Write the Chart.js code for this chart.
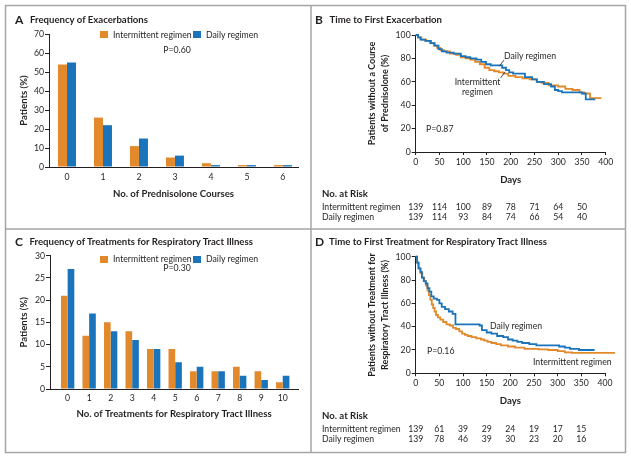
<!DOCTYPE html>
<html>
<head>
<meta charset="utf-8">
<title>Intermittent vs daily regimen</title>
<script src="https://cdn.jsdelivr.net/npm/chart.js@4.4.1/dist/chart.umd.min.js"></script>
<style>
  body { margin: 0; background: #fff; }
  #fig { position: relative; width: 631px; height: 460px; font-family: Lato, sans-serif; color: #231f20; overflow: hidden; }
  #fig canvas { position: absolute; }
  #fig svg { position: absolute; left: 0; top: 0; }
  .t { position: absolute; white-space: nowrap; font-size: 8.7px; line-height: 12px; transform: translateY(-50%); }
  .b { font-weight: bold; font-size: 9.6px; }
  .L { font-weight: bold; font-size: 12px; }
  .c { text-align: center; transform: translate(-50%, -50%); }
  .sq { position: absolute; width: 8px; height: 7px; }
</style>
</head>
<body>
<div id="fig">
  <canvas id="chartA" width="311" height="229" style="left:0;top:0;"></canvas>
  <canvas id="chartB" width="320" height="229" style="left:311px;top:0;"></canvas>
  <canvas id="chartC" width="311" height="229" style="left:0;top:229px;"></canvas>
  <canvas id="chartD" width="320" height="229" style="left:311px;top:229px;"></canvas>

  <svg width="631" height="460">
    <rect x="5.5" y="5.5" width="620" height="447" fill="none" stroke="#a5a5a5" stroke-width="1.5"/>
    <line x1="311" y1="5.5" x2="311" y2="452.5" stroke="#a5a5a5" stroke-width="1.5"/>
    <line x1="5.5" y1="229" x2="625.5" y2="229" stroke="#a5a5a5" stroke-width="1.5"/>
    <line x1="504" y1="60" x2="499.5" y2="66" stroke="#231f20" stroke-width="0.8"/>
    <line x1="500.5" y1="78" x2="505" y2="72" stroke="#231f20" stroke-width="0.8"/>
  </svg>

  <!-- panel A -->
  <div class="t L" style="left:15px;top:20px;">A</div>
  <div class="t b" style="left:30px;top:20px;">Frequency of Exacerbations</div>
  <div class="sq" style="left:100px;top:31px;background:#e2892b;"></div>
  <div class="t" style="left:113px;top:34.5px;">Intermittent regimen</div>
  <div class="sq" style="left:193px;top:31px;background:#1a74bb;"></div>
  <div class="t" style="left:206px;top:34.5px;">Daily regimen</div>
  <div class="t c" style="left:177px;top:50px;">P=0.60</div>

  <!-- panel B -->
  <div class="t L" style="left:315px;top:20px;">B</div>
  <div class="t b" style="left:329.5px;top:20px;">Time to First Exacerbation</div>
  <div class="t" style="left:504px;top:56px;">Daily regimen</div>
  <div class="t c" style="left:477.5px;top:81.7px;">Intermittent</div>
  <div class="t c" style="left:477.5px;top:91.7px;">regimen</div>
  <div class="t" style="left:426px;top:129px;">P=0.87</div>
  <div class="t b" style="left:322px;top:194.3px;">No. at Risk</div>
  <div class="t" style="left:322px;top:206.7px;">Intermittent regimen</div>
  <div class="t" style="left:322px;top:217.3px;">Daily regimen</div>

  <!-- panel C -->
  <div class="t L" style="left:15px;top:241.7px;">C</div>
  <div class="t b" style="left:29.5px;top:241.7px;">Frequency of Treatments for Respiratory Tract Illness</div>
  <div class="sq" style="left:100px;top:255.5px;background:#e2892b;"></div>
  <div class="t" style="left:113px;top:258.7px;">Intermittent regimen</div>
  <div class="sq" style="left:193px;top:255.5px;background:#1a74bb;"></div>
  <div class="t" style="left:206px;top:258.7px;">Daily regimen</div>
  <div class="t c" style="left:177px;top:268.3px;">P=0.30</div>

  <!-- panel D -->
  <div class="t L" style="left:315px;top:241.7px;">D</div>
  <div class="t b" style="left:329px;top:241.7px;">Time to First Treatment for Respiratory Tract Illness</div>
  <div class="t" style="left:490px;top:325.7px;">Daily regimen</div>
  <div class="t" style="left:427px;top:351px;">P=0.16</div>
  <div class="t" style="left:533px;top:361.7px;">Intermittent regimen</div>
  <div class="t b" style="left:322px;top:416px;">No. at Risk</div>
  <div class="t" style="left:322px;top:429px;">Intermittent regimen</div>
  <div class="t" style="left:322px;top:439.3px;">Daily regimen</div>
</div>

<script>
// ---- data ----
var courses = [0, 1, 2, 3, 4, 5, 6];
var coursesIntermittent = [54, 26, 11, 5, 2, 1, 1];
var coursesDaily = [55, 22, 15, 6, 1, 1, 1];

var treatments = [0, 1, 2, 3, 4, 5, 6, 7, 8, 9, 10];
var treatIntermittent = [21, 12, 15, 13, 9, 9, 4, 4, 5, 4, 1.5];
var treatDaily = [27, 17, 13, 11, 9, 6, 5, 4, 3, 2, 3];

// time to first exacerbation (days, % without prednisolone)
var exacDaysIntermittent = [0, 5, 12, 22, 30, 38, 45, 52, 60, 72, 85, 95, 105, 115, 125, 135, 145, 155, 165, 175, 185, 195, 210, 225, 240, 255, 265, 280, 300, 315, 330, 345, 355, 367, 391];
var exacSurvIntermittent = [100, 98, 96, 95, 93, 91, 89, 87, 86, 84, 83, 81, 80, 79, 77, 75, 72, 70, 69, 68, 67, 65, 64, 63, 62, 60, 59, 57, 56, 54, 53, 51, 50, 46, 46];
var exacDaysDaily = [0, 5, 10, 20, 32, 40, 48, 55, 65, 80, 95, 105, 115, 128, 138, 148, 158, 182, 190, 197, 205, 230, 245, 255, 270, 285, 293, 300, 308, 350, 358, 378];
var exacSurvDaily = [100, 98, 96, 95, 93, 91, 88, 86, 85, 84, 82, 81, 80, 79, 77, 75, 74, 72, 70, 68, 67, 64, 62, 60, 58, 56, 53, 52, 51, 50, 45, 45];

// time to first treatment for respiratory tract illness
var rtiDaysIntermittent = [0, 3, 6, 10, 14, 18, 22, 25, 28, 31, 34, 37, 40, 43, 47, 52, 58, 65, 72, 79, 85, 92, 98, 104, 110, 118, 128, 138, 145, 152, 160, 170, 180, 195, 210, 230, 260, 280, 300, 315, 330, 421];
var rtiSurvIntermittent = [100, 95, 90, 86, 82, 79, 75, 71, 67, 63, 59, 56, 53, 50, 48, 46, 44, 42, 41, 39, 38, 36, 34, 33, 32, 31, 30, 29, 28, 27, 26, 25, 24, 23, 22, 21, 20.5, 20, 19, 18, 17.5, 17.5];
var rtiDaysDaily = [0, 3, 6, 10, 13, 17, 21, 25, 29, 33, 38, 45, 50, 55, 62, 70, 78, 84, 135, 140, 150, 160, 172, 185, 195, 205, 215, 225, 240, 255, 303, 315, 326, 345, 378];
var rtiSurvDaily = [100, 95, 90, 87, 82, 79, 77, 73, 70, 66, 64, 63, 60, 57, 55, 53, 51, 42, 41, 37, 35, 34, 32, 31, 29, 28, 27, 26, 25, 24, 23, 22, 21, 20, 20];

// numbers at risk
var riskDays = [0, 50, 100, 150, 200, 250, 300, 350];
var riskExacIntermittent = [139, 114, 100, 89, 78, 71, 64, 50];
var riskExacDaily = [139, 114, 93, 84, 74, 66, 54, 40];
var riskRtiIntermittent = [139, 61, 39, 29, 24, 19, 17, 15];
var riskRtiDaily = [139, 78, 46, 39, 30, 23, 20, 16];

var ORANGE = '#e2892b', BLUE = '#1a74bb', INK = '#231f20';
var TICK = 8.7, TITLE = 9.6;

Chart.defaults.font.family = 'Lato';
Chart.defaults.color = INK;

function pts(xs, ys) {
  return xs.map(function (x, i) { return { x: x, y: ys[i] }; });
}

function drawBars(id, cats, inter, daily, o) {
  new Chart(document.getElementById(id), {
    type: 'bar',
    data: {
      datasets: [
        { label: 'Intermittent regimen', data: pts(cats, inter), backgroundColor: ORANGE },
        { label: 'Daily regimen', data: pts(cats, daily), backgroundColor: BLUE }
      ]
    },
    options: {
      responsive: false,
      animation: false,
      layout: { padding: o.pad },
      datasets: { bar: { barPercentage: 1, categoryPercentage: o.catPct } },
      plugins: { legend: { display: false }, tooltip: { enabled: false } },
      scales: {
        x: {
          type: 'linear', min: o.xMin, max: o.xMax, offset: false,
          grid: { offset: false, drawOnChartArea: false, drawTicks: false },
          border: { color: INK, width: 1 },
          ticks: { stepSize: 1, includeBounds: false, padding: o.xTickPad, font: { size: TICK }, color: INK },
          title: { display: true, text: o.xTitle, color: INK, font: { size: TITLE, weight: 'bold' }, padding: { top: 0, bottom: 0.5 } },
          afterFit: function (s) { s.height = o.xH; }
        },
        y: {
          min: 0, max: o.yMax,
          grid: { drawOnChartArea: false, tickLength: 4, color: INK },
          border: { color: INK, width: 1 },
          ticks: { stepSize: o.yStep, padding: 1, font: { size: TICK }, color: INK },
          title: { display: true, text: 'Patients (%)', color: INK, font: { size: TITLE, weight: 'bold' }, padding: { top: 4.5, bottom: 0 } },
          afterFit: function (s) { s.width = o.yW; }
        }
      }
    }
  });
}

function riskRows(rows, ys) {
  return {
    id: 'riskRows',
    afterDraw: function (chart) {
      var ctx = chart.ctx, xs = chart.scales.x;
      ctx.save();
      ctx.font = TICK + 'px Lato';
      ctx.fillStyle = INK;
      ctx.textAlign = 'center';
      ctx.textBaseline = 'middle';
      rows.forEach(function (row, r) {
        row.forEach(function (n, i) {
          ctx.fillText(String(n), xs.getPixelForValue(riskDays[i]), ys[r]);
        });
      });
      ctx.restore();
    }
  };
}

function drawKM(id, series, yTitle, o, risk) {
  new Chart(document.getElementById(id), {
    type: 'line',
    data: {
      datasets: series.map(function (s) {
        return {
          label: s.label, data: pts(s.days, s.surv),
          borderColor: s.color, borderWidth: 1.8, pointRadius: 0,
          stepped: true, fill: false, clip: false
        };
      })
    },
    options: {
      responsive: false,
      animation: false,
      layout: { padding: o.pad },
      plugins: { legend: { display: false }, tooltip: { enabled: false } },
      scales: {
        x: {
          type: 'linear', min: 0, max: 400,
          grid: { drawOnChartArea: false, tickLength: 3, color: INK },
          border: { color: INK, width: 1 },
          ticks: { stepSize: 50, padding: 2, font: { size: TICK }, color: INK },
          title: { display: true, text: 'Days', color: INK, font: { size: TITLE, weight: 'bold' }, padding: { top: 0, bottom: 0.5 } },
          afterFit: function (s) { s.height = o.xH; }
        },
        y: {
          min: 0, max: 100,
          grid: { drawOnChartArea: false, tickLength: 4, color: INK },
          border: { color: INK, width: 1 },
          ticks: { stepSize: 20, padding: 1, font: { size: TICK }, color: INK },
          title: { display: true, text: yTitle, color: INK, font: { size: 9, weight: 'bold', lineHeight: 1.4 }, padding: { top: 4.7, bottom: 0 } },
          afterFit: function (s) { s.width = o.yW; }
        }
      }
    },
    plugins: [risk]
  });
}

drawBars('chartA', courses, coursesIntermittent, coursesDaily, {
  pad: { left: 14, top: 34, right: 13, bottom: 29 }, yW: 35, xH: 33,
  xMin: -0.5, xMax: 6.42, catPct: 0.5, yMax: 70, yStep: 10, xTickPad: 5,
  xTitle: 'No. of Prednisolone Courses'
});

drawBars('chartC', treatments, treatIntermittent, treatDaily, {
  pad: { left: 14, top: 26.7, right: 13, bottom: 38 }, yW: 36, xH: 31,
  xMin: -0.82, xMax: 10.71, catPct: 0.62, yMax: 30, yStep: 5, xTickPad: 4,
  xTitle: 'No. of Treatments for Respiratory Tract Illness'
});

drawKM('chartB', [
  { label: 'Daily regimen', days: exacDaysDaily, surv: exacSurvDaily, color: BLUE },
  { label: 'Intermittent regimen', days: exacDaysIntermittent, surv: exacSurvIntermittent, color: ORANGE }
], ['Patients without a Course', 'of Prednisolone (%)'],
  { pad: { left: 50, top: 35, right: 25.3, bottom: 43 }, yW: 54.7, xH: 34 },
  riskRows([riskExacIntermittent, riskExacDaily], [206.7, 217.3]));

drawKM('chartD', [
  { label: 'Daily regimen', days: rtiDaysDaily, surv: rtiSurvDaily, color: BLUE },
  { label: 'Intermittent regimen', days: rtiDaysIntermittent, surv: rtiSurvIntermittent, color: ORANGE }
], ['Patients without Treatment for', 'Respiratory Tract Illness (%)'],
  { pad: { left: 50, top: 27.7, right: 26, bottom: 51 }, yW: 54.7, xH: 33.7 },
  riskRows([riskRtiIntermittent, riskRtiDaily], [200, 210.3]));
</script>
</body>
</html>
